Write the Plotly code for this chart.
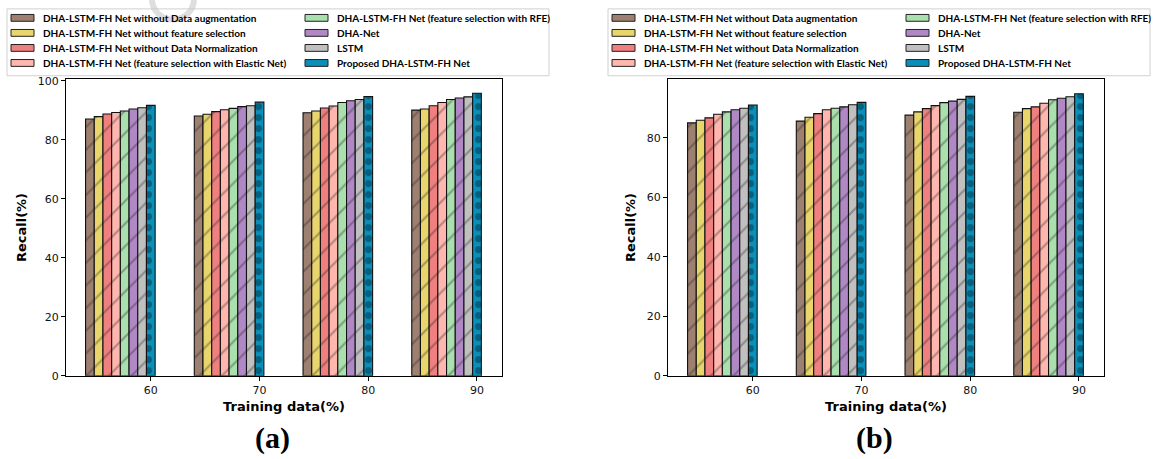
import plotly.graph_objects as go
from plotly.subplots import make_subplots

# ---------------- data ----------------
training = [60, 70, 80, 90]
series_names = [
    "DHA-LSTM-FH Net without Data augmentation",
    "DHA-LSTM-FH Net without feature selection",
    "DHA-LSTM-FH Net without Data Normalization",
    "DHA-LSTM-FH Net (feature selection with Elastic Net)",
    "DHA-LSTM-FH Net (feature selection with RFE)",
    "DHA-Net",
    "LSTM",
    "Proposed DHA-LSTM-FH Net",
]
recall_a_no_aug = [87.1, 88.1, 89.2, 90.1]
recall_a_no_fs = [87.9, 88.7, 89.8, 90.5]
recall_a_no_norm = [88.8, 89.6, 90.8, 91.6]
recall_a_elastic = [89.3, 90.2, 91.5, 92.7]
recall_a_rfe = [89.8, 90.7, 92.7, 93.7]
recall_a_dhanet = [90.5, 91.3, 93.3, 94.2]
recall_a_lstm = [90.9, 91.6, 93.7, 94.6]
recall_a_proposed = [91.7, 92.8, 94.7, 95.8]

recall_b_no_aug = [85.0, 85.6, 87.6, 88.6]
recall_b_no_fs = [85.9, 86.9, 88.7, 89.8]
recall_b_no_norm = [86.7, 88.1, 89.8, 90.4]
recall_b_elastic = [87.9, 89.4, 90.8, 91.6]
recall_b_rfe = [88.7, 89.9, 91.8, 92.8]
recall_b_dhanet = [89.4, 90.4, 92.3, 93.3]
recall_b_lstm = [89.9, 91.1, 92.9, 93.8]
recall_b_proposed = [91.0, 91.9, 93.9, 94.8]

panel_a = [recall_a_no_aug, recall_a_no_fs, recall_a_no_norm, recall_a_elastic,
           recall_a_rfe, recall_a_dhanet, recall_a_lstm, recall_a_proposed]
panel_b = [recall_b_no_aug, recall_b_no_fs, recall_b_no_norm, recall_b_elastic,
           recall_b_rfe, recall_b_dhanet, recall_b_lstm, recall_b_proposed]

# ---------------- style ----------------
colors = ["#9e8070", "#e8d56c", "#f08080", "#ffb6ae",
          "#aadfae", "#b088c6", "#c0c0c0", "#0a8fb8"]
W, H = 1153, 459
BAR_W = 0.8

def px(x):
    return x / W

def py(y):
    return 1 - y / H

fig = make_subplots(rows=1, cols=2)

for col, panel in ((1, panel_a), (2, panel_b)):
    n = len(panel)
    for i, (name, vals, c) in enumerate(zip(series_names, panel, colors)):
        if i == n - 1:
            pattern = dict(shape=".", size=11, solidity=0.3, fgcolor="rgba(0,35,55,0.9)")
        else:
            pattern = dict(shape="/", size=16, solidity=0.14, fgcolor="rgba(30,30,30,0.65)")
        fig.add_trace(
            go.Bar(
                x=training, y=vals, name=name, width=BAR_W,
                offset=-(n - 1 - i) * BAR_W - BAR_W / 2,
                marker=dict(color=c, line=dict(color="#111111", width=1.1), pattern=pattern),
                showlegend=False,
            ),
            row=1, col=col,
        )

axis_common = dict(
    showline=True, linecolor="black", linewidth=1.2, mirror=True,
    ticks="outside", ticklen=4, tickcolor="black", tickwidth=1,
    showgrid=False, zeroline=False,
    tickfont=dict(family="DejaVu Sans", size=11, color="#111111"),
)

fig.update_xaxes(**axis_common, range=[52.2, 92.3], tickvals=training,
                 title=dict(text="<b>Training data(%)</b>", standoff=5,
                            font=dict(family="DejaVu Sans", size=13, color="black")))
fig.update_yaxes(**axis_common, dtick=20,
                 title=dict(text="<b>Recall(%)</b>", standoff=8,
                            font=dict(family="DejaVu Sans", size=13, color="black")))

TOP, BOT = 77, 381
fig.update_layout(
    xaxis=dict(domain=[px(66), px(502)]),
    xaxis2=dict(domain=[px(668), px(1104)]),
    yaxis=dict(domain=[py(BOT), py(TOP)], range=[0, 100.6]),
    yaxis2=dict(domain=[py(BOT), py(TOP)], range=[0, 99.7]),
)

shapes = []
annotations = []

# manual legends (two columns, column-major order)
def add_legend(x_off):
    shapes.append(dict(type="rect", xref="paper", yref="paper",
                       x0=px(x_off + 7), x1=px(x_off + 549), y0=py(73.5), y1=py(5),
                       line=dict(color="#d0d0d0", width=1), fillcolor="white", layer="above"))
    rows_y = [14.2, 29.6, 45.0, 60.4]
    cols = [(x_off + 11, x_off + 41), (x_off + 305, x_off + 335)]
    for i, (name, c) in enumerate(zip(series_names, colors)):
        cx = cols[i // 4]
        yy = rows_y[i % 4]
        shapes.append(dict(type="rect", xref="paper", yref="paper",
                           x0=px(cx[0]), x1=px(cx[0] + 23), y0=py(yy + 3.5), y1=py(yy - 3.5),
                           line=dict(color="#222222", width=1), fillcolor=c, layer="above"))
        annotations.append(dict(xref="paper", yref="paper", x=px(cx[1]), y=py(yy),
                                xanchor="left", yanchor="middle", showarrow=False,
                                text="<b>" + name + "</b>",
                                font=dict(family="Lato", size=10, color="black")))

add_legend(0)
add_legend(601)

# watermark-like arc in panel (a) legend
shapes.append(dict(type="circle", xref="paper", yref="paper",
                   x0=px(152), x1=px(194), y0=py(16), y1=py(-26),
                   line=dict(color="rgba(200,200,200,0.6)", width=6), layer="above"))

# panel labels
for label, cx in (("(a)", 272), ("(b)", 874)):
    annotations.append(dict(xref="paper", yref="paper", x=px(cx), y=py(445),
                            xanchor="center", yanchor="middle", showarrow=False,
                            text="<b>" + label + "</b>",
                            font=dict(family="Liberation Serif", size=30, color="black")))

fig.update_layout(
    width=W, height=H, margin=dict(l=0, r=0, t=0, b=0),
    paper_bgcolor="white", plot_bgcolor="white",
    barmode="overlay", showlegend=False,
    shapes=shapes, annotations=annotations,
)

fig.write_html("out.html")
